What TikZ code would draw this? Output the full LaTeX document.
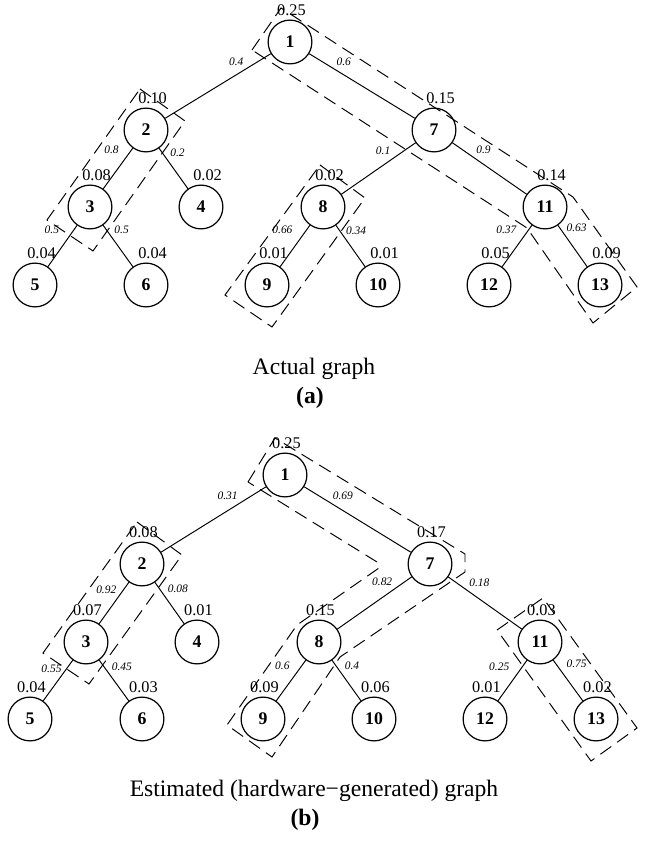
\documentclass[tikz,border=0pt]{standalone}
\usepackage{fontspec}
\setmainfont{Liberation Serif}
\usetikzlibrary{positioning}
\begin{document}
\begin{tikzpicture}[
  x=0.411pt, y=-0.411pt,
  v/.style={circle, draw, line width=0.5pt, minimum size=18pt, inner sep=0pt, font=\fontsize{7.3}{8}\selectfont\bfseries},
  e/.style={line width=0.4pt},
  el/.style={font=\fontsize{4.7}{5}\selectfont\itshape, inner sep=0pt},
  pr/.style={label={[font=\fontsize{6.7}{7}\selectfont, inner sep=0pt, label distance=1.5pt, xshift=2.7pt]above:#1}},
  pc/.style={label={[font=\fontsize{6.7}{7}\selectfont, inner sep=0pt, label distance=1.5pt, xshift=0.6pt]above:#1}},
  box/.style={dash pattern=on 5.5pt off 3pt, line width=0.4pt},
  captxt/.style={font=\fontsize{9.7}{11}\selectfont, inner sep=0pt},
  captag/.style={font=\fontsize{9.7}{11}\selectfont\bfseries, inner sep=0pt}
]
\useasboundingbox (0,0) rectangle (645,843);

\node[v, pc=0.25] (a1) at (290,42) {1};
\node[v, pr=0.10] (a2) at (146,130) {2};
\node[v, pr=0.08] (a3) at (90,207) {3};
\node[v, pr=0.02] (a4) at (201,207) {4};
\node[v, pr=0.04] (a5) at (35,285) {5};
\node[v, pr=0.04] (a6) at (146,285) {6};
\node[v, pr=0.15] (a7) at (434,130) {7};
\node[v, pr=0.02] (a8) at (323,207) {8};
\node[v, pr=0.01] (a9) at (267,285) {9};
\node[v, pr=0.01] (a10) at (378,285) {10};
\node[v, pr=0.14] (a11) at (545,207) {11};
\node[v, pr=0.05] (a12) at (489,285) {12};
\node[v, pr=0.09] (a13) at (600,285) {13};

\draw[e] (a1) -- node[el, pos=.23, above left=1.5pt] {0.4} (a2);
\draw[e] (a1) -- node[el, pos=.23, above right=1.5pt] {0.6} (a7);
\draw[e] (a2) -- node[el, pos=.05, left=5pt] {0.8} (a3);
\draw[e] (a2) -- node[el, pos=.12, right=3pt] {0.2} (a4);
\draw[e] (a3) -- node[el, pos=.1, left=6pt] {0.5} (a5);
\draw[e] (a3) -- node[el, pos=.12, right=3pt] {0.5} (a6);
\draw[e] (a7) -- node[el, pos=.30, above left=1.5pt] {0.1} (a8);
\draw[e] (a7) -- node[el, pos=.28, above right=1.5pt] {0.9} (a11);
\draw[e] (a8) -- node[el, pos=.12, left=5.5pt] {0.66} (a9);
\draw[e] (a8) -- node[el, pos=.12, right=2.5pt] {0.34} (a10);
\draw[e] (a11) -- node[el, pos=.12, left=4.7pt] {0.37} (a12);
\draw[e] (a11) -- node[el, pos=.07, right=2.5pt] {0.63} (a13);

\draw[box] (252,50) -- (281,8) -- (573,197) -- (637,287) -- (593,323) -- (527,228) -- cycle;
\draw[box] (140,89) -- (185,121) -- (93,251) -- (47,220) -- cycle;
\draw[box] (320,165) -- (365,198) -- (272,327) -- (225,295) -- cycle;

\node[captxt] (capa) at (314,369) {Actual graph};
\node[captag] (taga) at (310,398) {(a)};

\node[v, pc=0.25] (b1) at (285,475) {1};
\node[v, pc=0.08] (b2) at (142,564) {2};
\node[v, pc=0.07] (b3) at (86,642) {3};
\node[v, pc=0.01] (b4) at (197,642) {4};
\node[v, pc=0.04] (b5) at (30,719) {5};
\node[v, pc=0.03] (b6) at (142,719) {6};
\node[v, pc=0.17] (b7) at (430,564) {7};
\node[v, pc=0.15] (b8) at (319,642) {8};
\node[v, pc=0.09] (b9) at (263,719) {9};
\node[v, pc=0.06] (b10) at (374,719) {10};
\node[v, pc=0.03] (b11) at (540,642) {11};
\node[v, pc=0.01] (b12) at (485,719) {12};
\node[v, pc=0.02] (b13) at (596,719) {13};

\draw[e] (b1) -- node[el, pos=.24, above left=1.5pt] {0.31} (b2);
\draw[e] (b1) -- node[el, pos=.24, above right=1.5pt] {0.69} (b7);
\draw[e] (b2) -- node[el, pos=.17, left=2.9pt] {0.92} (b3);
\draw[e] (b2) -- node[el, pos=.15, right=3.3pt] {0.08} (b4);
\draw[e] (b3) -- node[el, pos=.2, left=2pt] {0.55} (b5);
\draw[e] (b3) -- node[el, pos=.17, right=2.9pt] {0.45} (b6);
\draw[e] (b7) -- node[el, pos=.22, above left=1.5pt] {0.82} (b8);
\draw[e] (b7) -- node[el, pos=.245, above right=1.5pt] {0.18} (b11);
\draw[e] (b8) -- node[el, pos=.13, left=4.9pt] {0.6} (b9);
\draw[e] (b8) -- node[el, pos=.13, right=3.5pt] {0.4} (b10);
\draw[e] (b11) -- node[el, pos=.15, left=5.3pt] {0.25} (b12);
\draw[e] (b11) -- node[el, pos=.1, right=4.1pt] {0.75} (b13);

\draw[box] (248,482) -- (275,438) -- (465,554) -- (465,572) -- (340,657) -- (272,757) -- (227,725) -- (297,625) -- (379,568) -- (377,562) -- cycle;
\draw[box] (137,522) -- (182,555) -- (89,684) -- (43,653) -- cycle;
\draw[box] (497,630) -- (543,598) -- (637,728) -- (591,761) -- cycle;

\node[captxt] (capb) at (314,791) {Estimated (hardware−generated) graph};
\node[captag] (tagb) at (305,820) {(b)};
\end{tikzpicture}
\end{document}
